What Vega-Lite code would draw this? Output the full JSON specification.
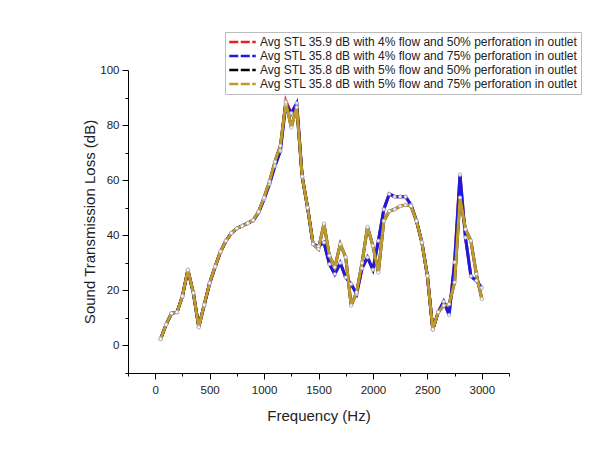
{
  "$schema": "https://vega.github.io/schema/vega-lite/v6.json",
  "autosize": "none",
  "width": 381,
  "height": 303,
  "padding": {"left": 128, "top": 70, "right": 87, "bottom": 97},
  "background": "white",
  "config": {
    "view": {"stroke": null},
    "font": "Liberation Sans",
    "axis": {"grid": false, "domainColor": "#000", "tickColor": "#000", "labelColor": "#222", "titleColor": "#222", "labelFont": "Liberation Sans", "titleFont": "Liberation Sans", "titleFontWeight": "normal", "labelFontSize": 11.5, "titleFontSize": 15}
  },
  "data": {"values": [
    {"f":50,"s":"A","v":2.4},{"f":100,"s":"A","v":7.6},{"f":150,"s":"A","v":11.7},{"f":200,"s":"A","v":12.1},{"f":250,"s":"A","v":17.9},{"f":300,"s":"A","v":27.3},{"f":350,"s":"A","v":19.1},{"f":400,"s":"A","v":6.8},{"f":450,"s":"A","v":14.6},{"f":500,"s":"A","v":22.5},{"f":550,"s":"A","v":28.5},{"f":600,"s":"A","v":34},{"f":650,"s":"A","v":38},{"f":700,"s":"A","v":40.8},{"f":750,"s":"A","v":42.5},{"f":800,"s":"A","v":43.4},{"f":850,"s":"A","v":44.4},{"f":900,"s":"A","v":45.4},{"f":950,"s":"A","v":48.4},{"f":1000,"s":"A","v":53.4},{"f":1050,"s":"A","v":59},{"f":1100,"s":"A","v":65.6},{"f":1150,"s":"A","v":71},{"f":1200,"s":"A","v":88.8},{"f":1250,"s":"A","v":84.2},{"f":1300,"s":"A","v":87.8},{"f":1350,"s":"A","v":61.3},{"f":1400,"s":"A","v":50},{"f":1450,"s":"A","v":36.8},{"f":1500,"s":"A","v":36},{"f":1550,"s":"A","v":37.4},{"f":1600,"s":"A","v":29.5},{"f":1650,"s":"A","v":25.9},{"f":1700,"s":"A","v":30},{"f":1750,"s":"A","v":24.7},{"f":1800,"s":"A","v":22.3},{"f":1850,"s":"A","v":18.7},{"f":1900,"s":"A","v":28},{"f":1950,"s":"A","v":32},{"f":2000,"s":"A","v":27.5},{"f":2050,"s":"A","v":38},{"f":2100,"s":"A","v":49.4},{"f":2150,"s":"A","v":55},{"f":2200,"s":"A","v":54},{"f":2250,"s":"A","v":54},{"f":2300,"s":"A","v":54},{"f":2350,"s":"A","v":51},{"f":2400,"s":"A","v":45.2},{"f":2450,"s":"A","v":37.4},{"f":2500,"s":"A","v":25.3},{"f":2550,"s":"A","v":5.8},{"f":2600,"s":"A","v":12.1},{"f":2650,"s":"A","v":15.9},{"f":2700,"s":"A","v":11.1},{"f":2750,"s":"A","v":30.2},{"f":2800,"s":"A","v":62},{"f":2850,"s":"A","v":39.2},{"f":2900,"s":"A","v":25.1},{"f":2950,"s":"A","v":23.5},{"f":3000,"s":"A","v":21},
    {"f":50,"s":"B","v":2.4},{"f":100,"s":"B","v":7.6},{"f":150,"s":"B","v":11.7},{"f":200,"s":"B","v":12.1},{"f":250,"s":"B","v":17.9},{"f":300,"s":"B","v":27.3},{"f":350,"s":"B","v":19.1},{"f":400,"s":"B","v":6.8},{"f":450,"s":"B","v":14.6},{"f":500,"s":"B","v":22.5},{"f":550,"s":"B","v":28.5},{"f":600,"s":"B","v":34},{"f":650,"s":"B","v":38},{"f":700,"s":"B","v":40.8},{"f":750,"s":"B","v":42.5},{"f":800,"s":"B","v":43.4},{"f":850,"s":"B","v":44.4},{"f":900,"s":"B","v":45.3},{"f":950,"s":"B","v":48.2},{"f":1000,"s":"B","v":53},{"f":1050,"s":"B","v":58.5},{"f":1100,"s":"B","v":65},{"f":1150,"s":"B","v":70.5},{"f":1200,"s":"B","v":87.5},{"f":1250,"s":"B","v":84.4},{"f":1300,"s":"B","v":88},{"f":1350,"s":"B","v":61.3},{"f":1400,"s":"B","v":50},{"f":1450,"s":"B","v":36.8},{"f":1500,"s":"B","v":36},{"f":1550,"s":"B","v":37.4},{"f":1600,"s":"B","v":29.5},{"f":1650,"s":"B","v":25.9},{"f":1700,"s":"B","v":30},{"f":1750,"s":"B","v":24.7},{"f":1800,"s":"B","v":22.3},{"f":1850,"s":"B","v":18.7},{"f":1900,"s":"B","v":28},{"f":1950,"s":"B","v":32},{"f":2000,"s":"B","v":27.5},{"f":2050,"s":"B","v":38},{"f":2100,"s":"B","v":49.4},{"f":2150,"s":"B","v":55},{"f":2200,"s":"B","v":54},{"f":2250,"s":"B","v":54},{"f":2300,"s":"B","v":54},{"f":2350,"s":"B","v":51},{"f":2400,"s":"B","v":45.2},{"f":2450,"s":"B","v":37.4},{"f":2500,"s":"B","v":25.3},{"f":2550,"s":"B","v":5.8},{"f":2600,"s":"B","v":12.1},{"f":2650,"s":"B","v":15.9},{"f":2700,"s":"B","v":11.1},{"f":2750,"s":"B","v":30.2},{"f":2800,"s":"B","v":62},{"f":2850,"s":"B","v":39.2},{"f":2900,"s":"B","v":25.1},{"f":2950,"s":"B","v":23.5},{"f":3000,"s":"B","v":21},
    {"f":50,"s":"C","v":2.4},{"f":100,"s":"C","v":7.6},{"f":150,"s":"C","v":11.7},{"f":200,"s":"C","v":12.1},{"f":250,"s":"C","v":17.9},{"f":300,"s":"C","v":27.5},{"f":350,"s":"C","v":19.1},{"f":400,"s":"C","v":6.6},{"f":450,"s":"C","v":14.8},{"f":500,"s":"C","v":22.7},{"f":550,"s":"C","v":28.7},{"f":600,"s":"C","v":34.1},{"f":650,"s":"C","v":38},{"f":700,"s":"C","v":40.8},{"f":750,"s":"C","v":42.5},{"f":800,"s":"C","v":43.4},{"f":850,"s":"C","v":44.4},{"f":900,"s":"C","v":45.5},{"f":950,"s":"C","v":48.6},{"f":1000,"s":"C","v":53.7},{"f":1050,"s":"C","v":59.5},{"f":1100,"s":"C","v":66.7},{"f":1150,"s":"C","v":72.5},{"f":1200,"s":"C","v":88.2},{"f":1250,"s":"C","v":79.2},{"f":1300,"s":"C","v":86.5},{"f":1350,"s":"C","v":61.3},{"f":1400,"s":"C","v":50},{"f":1450,"s":"C","v":36.8},{"f":1500,"s":"C","v":35},{"f":1550,"s":"C","v":44.2},{"f":1600,"s":"C","v":32.6},{"f":1650,"s":"C","v":28.4},{"f":1700,"s":"C","v":36.8},{"f":1750,"s":"C","v":32},{"f":1800,"s":"C","v":14.5},{"f":1850,"s":"C","v":19.3},{"f":1900,"s":"C","v":30},{"f":1950,"s":"C","v":43},{"f":2000,"s":"C","v":36.2},{"f":2050,"s":"C","v":26.5},{"f":2100,"s":"C","v":45.2},{"f":2150,"s":"C","v":48.8},{"f":2200,"s":"C","v":49.4},{"f":2250,"s":"C","v":50.6},{"f":2300,"s":"C","v":51},{"f":2350,"s":"C","v":50.6},{"f":2400,"s":"C","v":45.2},{"f":2450,"s":"C","v":37.4},{"f":2500,"s":"C","v":25.3},{"f":2550,"s":"C","v":5.8},{"f":2600,"s":"C","v":12.1},{"f":2650,"s":"C","v":14.5},{"f":2700,"s":"C","v":15},{"f":2750,"s":"C","v":22.9},{"f":2800,"s":"C","v":53.7},{"f":2850,"s":"C","v":42.2},{"f":2900,"s":"C","v":38},{"f":2950,"s":"C","v":25.9},{"f":3000,"s":"C","v":16.9},
    {"f":50,"s":"D","v":2.4},{"f":100,"s":"D","v":7.6},{"f":150,"s":"D","v":11.7},{"f":200,"s":"D","v":12.1},{"f":250,"s":"D","v":17.9},{"f":300,"s":"D","v":27.5},{"f":350,"s":"D","v":19.1},{"f":400,"s":"D","v":6.6},{"f":450,"s":"D","v":14.8},{"f":500,"s":"D","v":22.7},{"f":550,"s":"D","v":28.7},{"f":600,"s":"D","v":34.1},{"f":650,"s":"D","v":38},{"f":700,"s":"D","v":40.8},{"f":750,"s":"D","v":42.5},{"f":800,"s":"D","v":43.4},{"f":850,"s":"D","v":44.4},{"f":900,"s":"D","v":45.5},{"f":950,"s":"D","v":48.6},{"f":1000,"s":"D","v":53.7},{"f":1050,"s":"D","v":59.5},{"f":1100,"s":"D","v":66.7},{"f":1150,"s":"D","v":72.5},{"f":1200,"s":"D","v":88.3},{"f":1250,"s":"D","v":79},{"f":1300,"s":"D","v":86.5},{"f":1350,"s":"D","v":61.3},{"f":1400,"s":"D","v":50},{"f":1450,"s":"D","v":36.8},{"f":1500,"s":"D","v":35},{"f":1550,"s":"D","v":44.2},{"f":1600,"s":"D","v":32.6},{"f":1650,"s":"D","v":28.4},{"f":1700,"s":"D","v":36.8},{"f":1750,"s":"D","v":32},{"f":1800,"s":"D","v":14.5},{"f":1850,"s":"D","v":19.3},{"f":1900,"s":"D","v":30},{"f":1950,"s":"D","v":43},{"f":2000,"s":"D","v":36.2},{"f":2050,"s":"D","v":26.5},{"f":2100,"s":"D","v":45.2},{"f":2150,"s":"D","v":48.8},{"f":2200,"s":"D","v":49.4},{"f":2250,"s":"D","v":50.6},{"f":2300,"s":"D","v":51},{"f":2350,"s":"D","v":50.6},{"f":2400,"s":"D","v":45.2},{"f":2450,"s":"D","v":37.4},{"f":2500,"s":"D","v":25.3},{"f":2550,"s":"D","v":5.8},{"f":2600,"s":"D","v":12.1},{"f":2650,"s":"D","v":14.5},{"f":2700,"s":"D","v":15},{"f":2750,"s":"D","v":22.9},{"f":2800,"s":"D","v":53.7},{"f":2850,"s":"D","v":42.2},{"f":2900,"s":"D","v":38},{"f":2950,"s":"D","v":25.9},{"f":3000,"s":"D","v":16.9}
  ]},
  "resolve": {"axis": {"x": "independent", "y": "independent"}},
  "layer": [
    {
      "mark": {"type": "line", "strokeWidth": 3},
      "encoding": {
        "x": {"field": "f", "type": "quantitative", "scale": {"domain": [-250, 3250], "nice": false, "zero": false},
              "axis": {"title": "Frequency (Hz)", "values": [0, 500, 1000, 1500, 2000, 2500, 3000], "format": "d", "tickSize": 6, "labelPadding": 5, "titlePadding": 13}},
        "y": {"field": "v", "type": "quantitative", "scale": {"domain": [-10, 100], "nice": false, "zero": false},
              "axis": {"title": "Sound Transmission Loss (dB)", "values": [0, 20, 40, 60, 80, 100], "tickSize": 6, "labelPadding": 3, "titlePadding": 2}},
        "color": {"field": "s", "type": "nominal",
          "scale": {"domain": ["A", "B", "C", "D"], "range": ["#e52222", "#1a1ae0", "#000000", "#bf9a2e"]},
          "legend": {
            "title": null, "orient": "none", "legendX": 97, "legendY": -38,
            "labelExpr": "datum.value == 'A' ? 'Avg STL 35.9 dB with 4% flow and 50% perforation in outlet' : datum.value == 'B' ? 'Avg STL 35.8 dB with 4% flow and 75% perforation in outlet' : datum.value == 'C' ? 'Avg STL 35.8 dB with 5% flow and 50% perforation in outlet' : 'Avg STL 35.8 dB with 5% flow and 75% perforation in outlet'",
            "symbolType": "stroke", "symbolSize": 700, "symbolStrokeWidth": 2.5, "symbolDash": [9, 2.5],
            "clipHeight": 14,
            "labelFont": "Liberation Sans", "labelFontSize": 12, "labelColor": "#222", "labelLimit": 400,
            "strokeColor": "#bbbbbb", "fillColor": "white", "padding": 3, "rowPadding": 0, "labelOffset": 3
          }
        }
      }
    },
    {
      "mark": {"type": "point", "filled": true, "fill": "white", "stroke": "#9d9daf", "strokeWidth": 0.7, "size": 12},
      "encoding": {
        "x": {"field": "f", "type": "quantitative",
              "axis": {"orient": "bottom", "title": null, "labels": false, "domain": false, "tickSize": 3, "values": [-250, 250, 750, 1250, 1750, 2250, 2750, 3250]}},
        "y": {"field": "v", "type": "quantitative",
              "axis": {"orient": "left", "title": null, "labels": false, "domain": false, "tickSize": 3, "values": [-10, 10, 30, 50, 70, 90]}}
      }
    }
  ]
}
